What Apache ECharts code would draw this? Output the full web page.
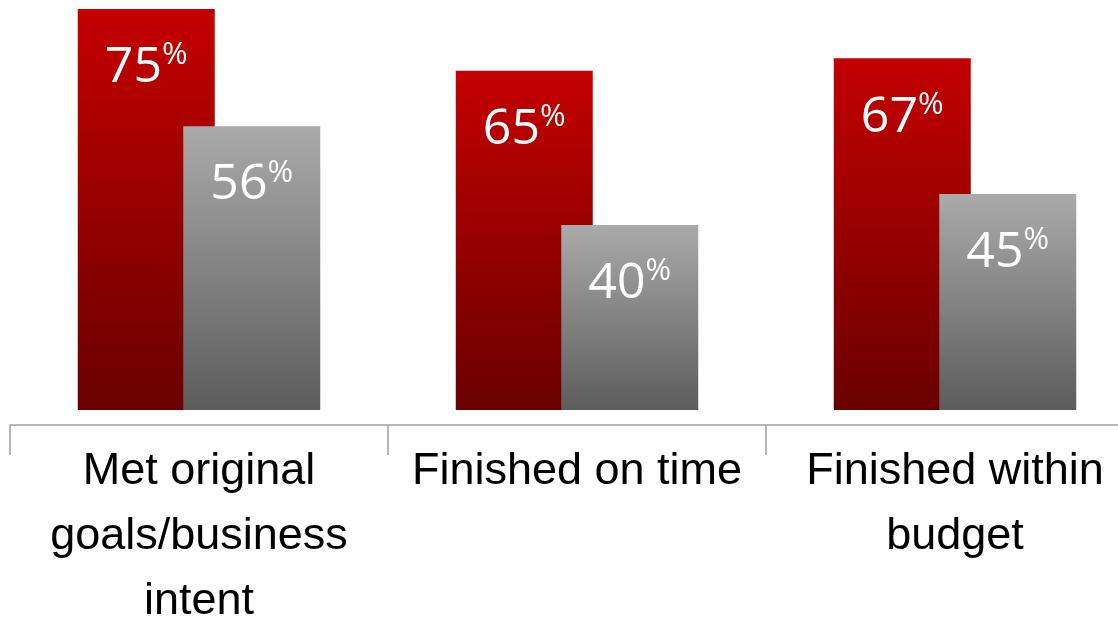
<!DOCTYPE html>
<html>
<head>
<meta charset="utf-8">
<script src="https://cdn.jsdelivr.net/npm/echarts@6/dist/echarts.min.js"></script>
<style>
  html, body { margin: 0; padding: 0; background: #fff; }
  #main { width: 1118px; height: 620px; }
</style>
</head>
<body>
<div id="main"></div>
<script>
var categories = ['Met original\ngoals/business\nintent', 'Finished on time', 'Finished within\nbudget'];
var redValues = [75, 65, 67];
var greyValues = [56, 40, 45];

var myChart = echarts.init(document.getElementById('main'));

// gradient fill for each series
function grad(top, bottom) {
    return new echarts.graphic.LinearGradient(0, 0, 0, 1, [
        { offset: 0, color: top },
        { offset: 1, color: bottom }
    ]);
}

var barLabel = {
    show: true,
    position: 'insideTop',
    distance: 31,
    formatter: '{n|{c}}{p|%}',
    rich: {
        n: { color: '#fff', fontSize: 50, lineHeight: 56, fontFamily: 'Open Sans' },
        p: { color: '#fff', fontSize: 31, lineHeight: 56, verticalAlign: 'top', fontFamily: 'Open Sans' }
    }
};

var option = {
    animation: false,
    grid: { left: 10, top: 9, width: 1134, bottom: 210, containLabel: false, outerBoundsMode: 'none' },
    xAxis: {
        type: 'category',
        data: categories,
        offset: 15,
        axisLine: { lineStyle: { color: '#a0a0a0', width: 1.5 } },
        axisTick: { show: true, length: 30, lineStyle: { color: '#a0a0a0', width: 1.5 } },
        axisLabel: {
            interval: 0,
            color: '#000',
            fontSize: 45,
            lineHeight: 65,
            margin: 14,
            fontFamily: 'Liberation Sans, Arial, sans-serif'
        }
    },
    yAxis: {
        type: 'value',
        min: 10,
        max: 75,
        show: false
    },
    series: [
        {
            name: 'red',
            type: 'bar',
            data: redValues,
            barWidth: 137,
            barGap: '-23%',
            itemStyle: { color: grad('#c40000', '#6a0000') },
            label: barLabel
        },
        {
            name: 'grey',
            type: 'bar',
            data: greyValues,
            barWidth: 137,
            itemStyle: { color: grad('#aaaaaa', '#5c5c5c') },
            label: barLabel
        }
    ]
};

myChart.setOption(option);
</script>
</body>
</html>
